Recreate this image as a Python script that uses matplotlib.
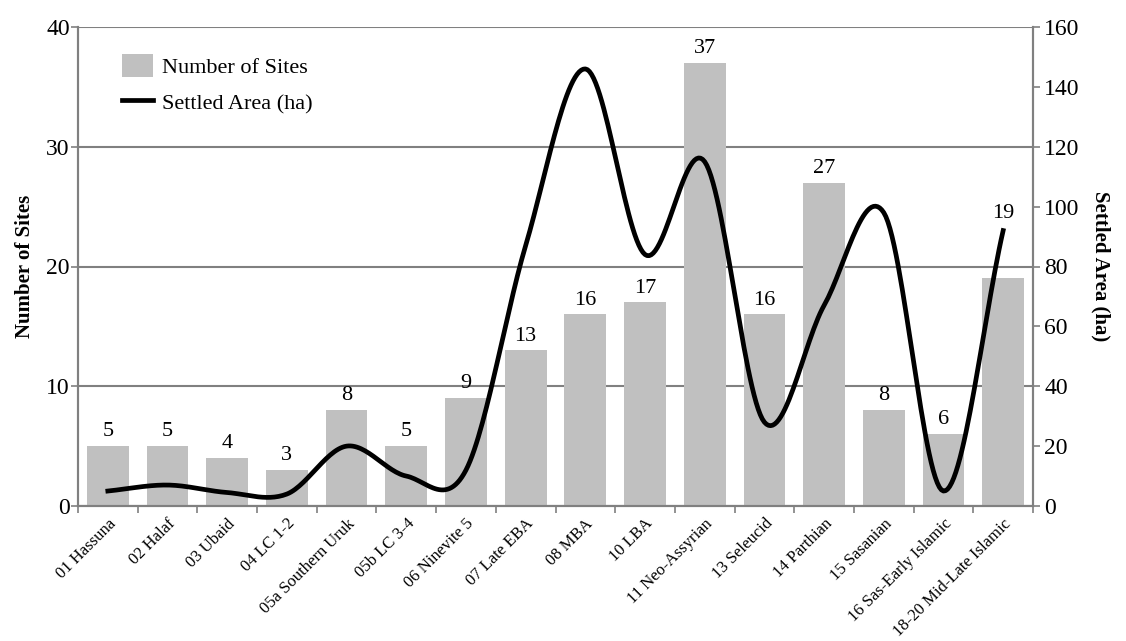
import numpy as np
import matplotlib
matplotlib.use("Agg")
import matplotlib.pyplot as plt
from matplotlib.patches import Patch
from matplotlib.lines import Line2D

plt.rcParams['font.family'] = ['Liberation Serif', 'DejaVu Serif']

periods = ["01 Hassuna", "02 Halaf", "03 Ubaid", "04 LC 1-2", "05a Southern Uruk",
           "05b LC 3-4", "06 Ninevite 5", "07 Late EBA", "08 MBA", "10 LBA",
           "11 Neo-Assyrian", "13 Seleucid", "14 Parthian", "15 Sasanian",
           "16 Sas-Early Islamic", "18-20 Mid-Late Islamic"]
sites = [5, 5, 4, 3, 8, 5, 9, 13, 16, 17, 37, 16, 27, 8, 6, 19]
area = [5, 7, 4.5, 4, 20, 10, 12, 87, 146, 84, 115, 28, 67, 98, 5, 92]

grey = "#808080"
barcol = "#c0c0c0"


def smooth(xs, ys, n=30):
    # catmull-rom, roughly what excel's "smoothed line" does
    xs = np.asarray(xs, float)
    ys = np.asarray(ys, float)
    px = np.concatenate([[2 * xs[0] - xs[1]], xs, [2 * xs[-1] - xs[-2]]])
    py = np.concatenate([[2 * ys[0] - ys[1]], ys, [2 * ys[-1] - ys[-2]]])
    outx, outy = [], []
    t = np.linspace(0, 1, n)
    for i in range(1, len(px) - 2):
        for P, out in ((px, outx), (py, outy)):
            p0, p1, p2, p3 = P[i - 1], P[i], P[i + 1], P[i + 2]
            out.extend(0.5 * ((2 * p1) + (-p0 + p2) * t + (2 * p0 - 5 * p1 + 4 * p2 - p3) * t ** 2
                              + (-p0 + 3 * p1 - 3 * p2 + p3) * t ** 3))
    return np.array(outx), np.array(outy)


fig = plt.figure(figsize=(11.26, 6.41), dpi=100)
ax = fig.add_axes([78 / 1126, 1 - 506 / 641, (1033 - 78) / 1126, (506 - 27) / 641])
ax2 = ax.twinx()

x = np.arange(len(periods))
ax.bar(x, sites, width=0.7, color=barcol, zorder=2)
for xi, s in zip(x, sites):
    off = 0.4
    if xi == len(periods) - 1:
        off = 4.6  # label sits above the line end in the original
    ax.text(xi, s + off, str(s), ha='center', va='bottom', fontsize=16)

ax.set_ylim(0, 40)
ax.set_xlim(-0.5, len(periods) - 0.5)
ax.set_yticks([0, 10, 20, 30, 40])
ax.yaxis.grid(True, color=grey, linewidth=1.5, zorder=0)
ax.set_axisbelow(True)
ax.set_xticks(np.arange(len(periods) + 1) - 0.5, minor=True)
ax.set_xticks(x)
ax.set_xticklabels(periods, rotation=45, ha='right', rotation_mode='anchor', fontsize=12)
ax.tick_params(axis='x', which='major', length=0, pad=7)
ax.tick_params(axis='x', which='minor', length=5, color=grey, width=1.2)
ax.tick_params(axis='y', labelsize=17, length=5, color=grey, width=1.2, pad=1)
ax.set_ylabel("Number of Sites", fontsize=15, fontweight='bold', labelpad=8)

sx, sy = smooth(x, area)
ax2.plot(sx, sy, color='black', linewidth=3.4, zorder=3)
ax2.set_ylim(0, 160)
ax2.set_yticks([0, 20, 40, 60, 80, 100, 120, 140, 160])
ax2.tick_params(axis='y', labelsize=17, length=5, color=grey, width=1.2, pad=3)
ax2.set_ylabel("Settled Area (ha)", fontsize=15, fontweight='bold', rotation=270, labelpad=22)

for a in (ax, ax2):
    a.spines['top'].set_visible(False)
    for sp in ('left', 'right', 'bottom'):
        a.spines[sp].set_color(grey)
        a.spines[sp].set_linewidth(1.5)

handles = [Patch(facecolor=barcol, edgecolor='none'), Line2D([], [], color='black', linewidth=3.4)]
ax.legend(handles, ["Number of Sites", "Settled Area (ha)"], loc='upper left',
          bbox_to_anchor=(0.025, 0.985), frameon=False, fontsize=16,
          handlelength=1.4, handleheight=1.2, handletextpad=0.4, labelspacing=0.55)

fig.savefig("out.png", dpi=100)
